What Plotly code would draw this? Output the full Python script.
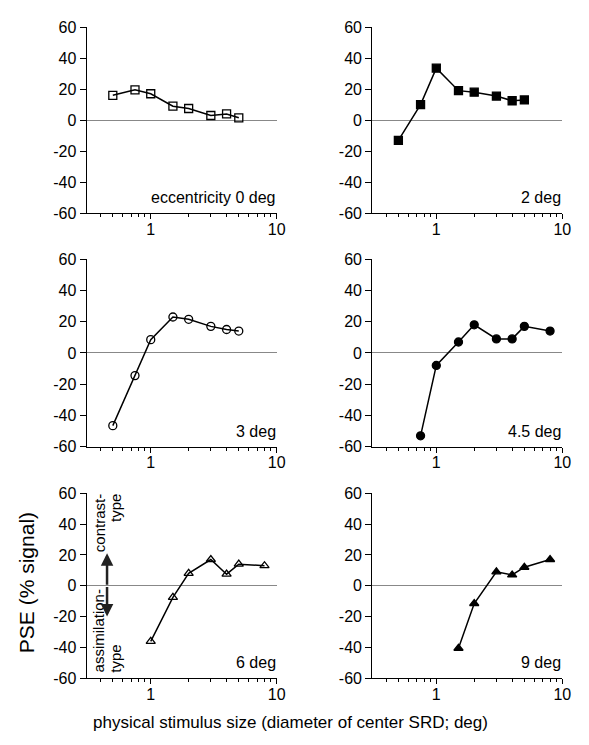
import numpy as np
import plotly.graph_objects as go

# ---- data ----
x_e0 = [0.5, 0.75, 1, 1.5, 2, 3, 4, 5]
y_e0 = [16, 19.5, 17, 9, 7.5, 3, 4, 1.5]
x_e2 = [0.5, 0.75, 1, 1.5, 2, 3, 4, 5]
y_e2 = [-13, 10, 33.5, 19, 18, 15.5, 12.5, 13]
x_e3 = [0.5, 0.75, 1, 1.5, 2, 3, 4, 5]
y_e3 = [-46.5, -14.5, 8.5, 23, 21.5, 17, 15, 14]
x_e45 = [0.75, 1, 1.5, 2, 3, 4, 5, 8]
y_e45 = [-53, -8, 7, 18, 9, 9, 17, 14]
x_e6 = [1, 1.5, 2, 3, 4, 5, 8]
y_e6 = [-36, -7.5, 8, 17, 7.5, 14, 13]
x_e9 = [1.5, 2, 3, 4, 5, 8]
y_e9 = [-40.5, -11.5, 9, 7, 12, 17]

panel_labels = ["eccentricity 0 deg", "2 deg", "3 deg", "4.5 deg", "6 deg", "9 deg"]
markers = ["square-open", "square", "circle-open", "circle", "triangle-up-open", "triangle-up"]
y_ticks = [-60, -40, -20, 0, 20, 40, 60]
x_ticks = [1, 10]
minor_ticks = [0.4, 0.5, 0.6, 0.7, 0.8, 0.9, 2, 3, 4, 5, 6, 7, 8, 9]

series = [(x_e0, y_e0), (x_e2, y_e2), (x_e3, y_e3), (x_e45, y_e45), (x_e6, y_e6), (x_e9, y_e9)]

W, H = 589, 745
col_px = [(88, 281), (378, 571)]
row_px = [(19.5, 210), (257, 449), (496.5, 686)]

FONT = "Liberation Sans, Arial, sans-serif"
fig = go.Figure()
layout = dict(
    width=W, height=H, margin=dict(l=0, r=0, t=0, b=0),
    paper_bgcolor="white", plot_bgcolor="white", showlegend=False,
    font=dict(family=FONT, size=16, color="black"),
)
annotations = []
for i, (xs, ys) in enumerate(series):
    r, c = divmod(i, 2)
    n = "" if i == 0 else str(i + 1)
    xa, ya = "xaxis" + n, "yaxis" + n
    fig.add_trace(go.Scatter(
        x=xs, y=ys, mode="lines+markers", xaxis="x" + n, yaxis="y" + n,
        line=dict(color="black", width=1.5),
        marker=dict(symbol=markers[i], size=8,
                    color="black", line=dict(color="black", width=1.3)),
        cliponaxis=False,
    ))
    x0, x1 = col_px[c]
    t, b = row_px[r]
    layout[xa] = dict(
        type="log", domain=[x0 / W, x1 / W], range=[np.log10(0.31), 1.0],
        anchor="y" + n, showline=True, linecolor="black", linewidth=1.2,
        showgrid=False, zeroline=False, ticks="outside", ticklen=5, tickwidth=1,
        tickcolor="black", tickvals=x_ticks, ticktext=[str(v) for v in x_ticks],
        tickfont=dict(size=16), ticklabelstandoff=-4,
        minor=dict(tickvals=minor_ticks, ticks="outside", ticklen=3, tickcolor="black", showgrid=False),
    )
    layout[ya] = dict(
        domain=[1 - b / H, 1 - t / H], range=[-60, 60], anchor="x" + n,
        showline=True, linecolor="black", linewidth=1.2, showgrid=False,
        zeroline=True, zerolinecolor="#888888", zerolinewidth=1,
        ticks="outside", ticklen=6, tickwidth=1, tickcolor="black",
        tickvals=y_ticks, ticktext=[str(v) for v in y_ticks], tickfont=dict(size=16),
    )
    annotations.append(dict(
        x=1.0, y=-50, xref="x" + n, yref="y" + n, text=panel_labels[i],
        showarrow=False, xanchor="right", yanchor="middle", xshift=1,
        font=dict(size=16),
    ))

# axis titles
annotations.append(dict(
    x=27 / W, y=1 - 588 / H, xref="paper", yref="paper", text="PSE (% signal)",
    showarrow=False, textangle=-90, font=dict(size=21), xanchor="center", yanchor="middle",
))
annotations.append(dict(
    x=295 / W, y=1 - 731 / H, xref="paper", yref="paper",
    text="physical stimulus size (diameter of center SRD; deg)",
    showarrow=False, font=dict(size=17), xanchor="center", yanchor="middle",
))
# contrast / assimilation annotations
for txt, xp, yp, ya_ in [("contrast-", 101, 496, "top"), ("type", 117, 496, "top"),
                         ("assimilation-", 101, 681, "bottom"), ("type", 117, 681, "bottom")]:
    annotations.append(dict(
        x=xp / W, y=1 - yp / H, xref="paper", yref="paper", text=txt,
        showarrow=False, textangle=-90, font=dict(size=15), xanchor="center", yanchor=ya_,
        borderpad=0,
    ))
arrow_x = 0.45
annotations.append(dict(
    x=np.log10(arrow_x), y=21, xref="x5", yref="y5", ax=0, ay=33, axref="pixel", ayref="pixel",
    showarrow=True, arrowhead=2, arrowsize=1, arrowwidth=2.5, arrowcolor="#222222", text="",
))
annotations.append(dict(
    x=np.log10(arrow_x), y=-20, xref="x5", yref="y5", ax=0, ay=-31, axref="pixel", ayref="pixel",
    showarrow=True, arrowhead=2, arrowsize=1, arrowwidth=2.5, arrowcolor="#222222", text="",
))
layout["annotations"] = annotations
fig.update_layout(**layout)
fig.write_html("out.html")
